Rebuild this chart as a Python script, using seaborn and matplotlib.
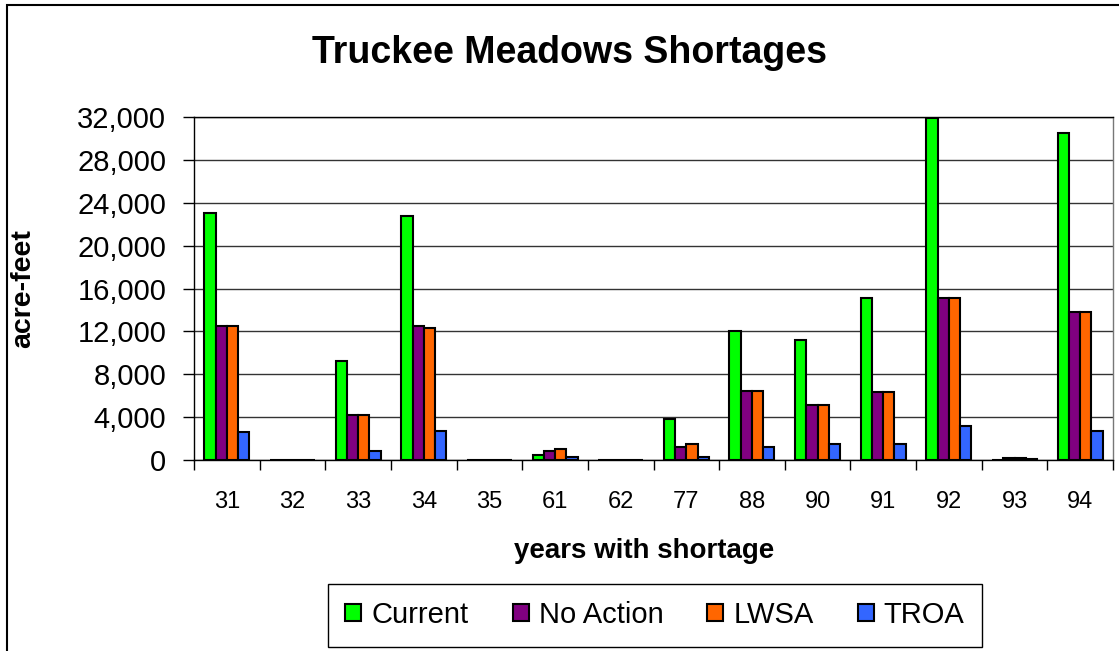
import numpy as np
import pandas as pd
import matplotlib
matplotlib.use("Agg")
import matplotlib.pyplot as plt
from matplotlib.patches import Patch, Rectangle
from matplotlib.ticker import FuncFormatter, MultipleLocator, FixedLocator, NullFormatter
import seaborn as sns

# data (acre-feet)
years = ["31", "32", "33", "34", "35", "61", "62", "77", "88", "90", "91", "92", "93", "94"]
current = [23000, 0, 9200, 22800, 0, 430, 0, 3800, 12000, 11200, 15100, 31900, 0, 30500]
no_action = [12500, 0, 4200, 12500, 0, 860, 0, 1250, 6400, 5100, 6300, 15100, 200, 13800]
lwsa = [12500, 0, 4200, 12300, 0, 1040, 0, 1470, 6400, 5100, 6300, 15100, 200, 13800]
troa = [2600, 0, 850, 2750, 0, 240, 0, 240, 1250, 1470, 1470, 3150, 100, 2700]

series_names = ["Current", "No Action", "LWSA", "TROA"]
series_colors = ["#00FF00", "#800080", "#FF6600", "#3366FF"]

df = pd.DataFrame({"year": years, "Current": current, "No Action": no_action,
                   "LWSA": lwsa, "TROA": troa})
long_df = df.melt(id_vars="year", var_name="scenario", value_name="acre_feet")

sns.set_style("white")
plt.rcParams["font.family"] = ["Liberation Sans", "DejaVu Sans"]
plt.rcParams.update({"text.color": "black", "axes.labelcolor": "black",
                     "xtick.color": "black", "ytick.color": "black"})

W, H = 1119, 651
fig = plt.figure(figsize=(W / 100, H / 100), dpi=100)
ax = fig.add_axes([194 / W, 1 - 460 / H, (1113 - 194) / W, 343 / H])

palette = dict(zip(series_names, series_colors))
sns.barplot(data=long_df, x="year", y="acre_feet", hue="scenario",
            order=years, hue_order=series_names, palette=palette,
            width=0.685, edgecolor="black", linewidth=1.5, saturation=1,
            legend=False, ax=ax, zorder=3)

# axes styling (Excel-like)
ax.set_ylim(0, 32000)
ax.set_xlim(-0.5, len(years) - 0.5)
ax.yaxis.set_major_locator(MultipleLocator(4000))
ax.yaxis.set_major_formatter(FuncFormatter(lambda v, p: f"{v:,.0f}"))
ax.grid(axis="y", color="#333333", linewidth=1.0, zorder=0)
ax.set_axisbelow(True)
for s in ax.spines.values():
    s.set_color("black")
    s.set_linewidth(1.0)
ax.spines["right"].set_color("#777777")

ax.tick_params(axis="y", which="major", direction="out", length=8, width=1,
               labelsize=21, pad=12, left=True, color="black", labelcolor="black")
ax.tick_params(axis="x", which="major", length=0, labelsize=17, pad=22,
               labelcolor="black")
ax.xaxis.set_minor_locator(FixedLocator(np.arange(-0.5, len(years), 1.0)))
ax.xaxis.set_minor_formatter(NullFormatter())
ax.tick_params(axis="x", which="minor", direction="out", length=7, width=1,
               bottom=True, color="black")

ax.set_xlabel("years with shortage", fontsize=20, fontweight="bold", color="black")
ax.set_ylabel("acre-feet", fontsize=20.5, fontweight="bold", color="black")
ax.xaxis.set_label_coords(0.49, -0.228)
ax.yaxis.set_label_coords(-0.172, 0.5)

fig.text(569 / W, 1 - 53 / H, "Truckee Meadows Shortages", ha="center", va="center",
         fontsize=27, fontweight="bold", color="black")

handles = [Patch(facecolor=c, edgecolor="black", linewidth=1.5) for c in series_colors]
leg = fig.legend(handles, series_names, loc="center",
                 bbox_to_anchor=(655 / W, 1 - 615 / H), ncol=4, fontsize=21,
                 frameon=True, fancybox=False, shadow=False, framealpha=1,
                 handlelength=0.55, handleheight=0.55, handletextpad=0.35,
                 columnspacing=1.5, borderpad=0.6, borderaxespad=0)
leg.get_frame().set_edgecolor("black")
leg.get_frame().set_linewidth(1.0)
for t in leg.get_texts():
    t.set_color("black")

# outer chart-area border (cropped on the right and bottom in the reference)
fig.patches.append(Rectangle((7 / W, -0.1), 1.2, 1.1 - 5 / H, transform=fig.transFigure,
                             fill=False, edgecolor="black", linewidth=1.5, zorder=0))

fig.savefig("out.png", dpi=100)
